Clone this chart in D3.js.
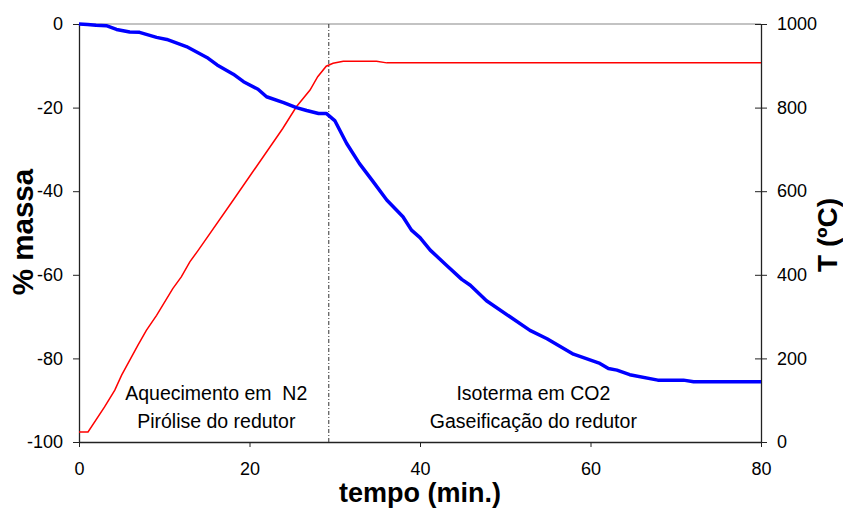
<!DOCTYPE html>
<html>
<head>
<meta charset="utf-8">
<script src="https://cdn.jsdelivr.net/npm/d3@7"></script>
<style>
  body { margin: 0; background: #fff; }
  svg text { font-family: Arial, "Liberation Sans", sans-serif; fill: #000; }
</style>
</head>
<body>
<div id="chart"></div>
<script>
// data
var massTime = [0, 1, 2, 3.2, 4.4, 5.95, 7.1, 9.1, 10.3, 12.6, 15.0, 16.2, 18.1, 19.3, 21.0, 22.0, 24.0, 25.5, 26.7, 28.1, 29.0,
                30.0, 31.4, 32.9, 34.5, 36.1, 38.0, 39.0, 40.0, 41.2, 43.1, 44.9, 45.9, 47.8, 50.6, 52.9, 54.9, 58.0, 61.1, 62.1,
                63.1, 64.6, 67.9, 70.9, 72.1, 80];
var massValues = [0, -0.1, -0.3, -0.4, -1.3, -1.9, -2.0, -3.2, -3.7, -5.4, -8.0, -9.8, -12.0, -13.8, -15.6, -17.4, -18.8, -20.0, -20.7, -21.4, -21.4,
                  -23.1, -28.6, -33.4, -37.7, -42.1, -46.1, -49.3, -51.1, -54.1, -57.7, -61.1, -62.5, -66.2, -70.1, -73.3, -75.3, -79.0, -81.2, -82.4,
                  -82.8, -83.9, -85.2, -85.2, -85.6, -85.6];
var tempTime = [0, 1.06, 3.0, 4.2, 5.0, 6.9, 7.9, 9.1, 11.0, 12.0, 13.0, 14.0, 18.1, 23.9, 25.5, 27.1, 28.0, 29.0, 29.8, 31.0, 34.9, 36.1, 80];
var tempValues = [24, 24, 84, 124, 160, 231, 267, 303, 367, 395, 431, 459, 579, 750, 802, 842, 874, 899, 906, 911, 911, 907, 907];

var xTicks = [0, 20, 40, 60, 80];
var massTicks = [0, -20, -40, -60, -80, -100];
var tempTicks = [0, 200, 400, 600, 800, 1000];
var changeTime = 29.3;

var margin = {top: 24, left: 79},
    width = 682,
    height = 418;

var svg = d3.select("#chart")
    .append("svg")
    .attr("width", 843)
    .attr("height", 509);

var g = svg.append("g")
    .attr("transform", "translate(" + margin.left + "," + margin.top + ")");

var x = d3.scaleLinear().domain([0, 80]).range([0, width]);
var yMass = d3.scaleLinear().domain([-100, 0]).range([height, 0]);
var yTemp = d3.scaleLinear().domain([0, 1000]).range([height, 0]);

// plain labels, hyphen minus and no thousands comma
var plain = function(d) { return String(d); };

// top border
g.append("line")
    .attr("x1", 0).attr("x2", width)
    .attr("y1", 0).attr("y2", 0)
    .attr("stroke", "#888").attr("stroke-width", 1.2);

// axes
var left = g.append("g")
    .call(d3.axisLeft(yMass).tickValues(massTicks).tickFormat(plain).tickSizeInner(6).tickSizeOuter(0).tickPadding(10));
var bottom = g.append("g")
    .attr("transform", "translate(0," + height + ")")
    .call(d3.axisBottom(x).tickValues(xTicks).tickFormat(plain).tickSizeInner(5).tickSizeOuter(0).tickPadding(15));
var right = g.append("g")
    .attr("transform", "translate(" + width + ",0)")
    .call(d3.axisRight(yTemp).tickValues(tempTicks).tickFormat(plain).tickSizeInner(6).tickSizeOuter(0).tickPadding(10));
right.selectAll(".tick line").attr("x1", -6);

[left, bottom, right].forEach(function(a) {
    a.selectAll("text").style("font-size", "18px").attr("fill", "#000");
    a.selectAll("line").attr("stroke", "#222");
    a.select(".domain").attr("stroke", "#222").attr("stroke-width", 1.3);
});

// vertical change line
g.append("line")
    .attr("x1", x(changeTime)).attr("x2", x(changeTime))
    .attr("y1", 0).attr("y2", height)
    .attr("stroke", "#333")
    .attr("stroke-width", 1)
    .attr("stroke-dasharray", "4,2,1,2");

// temperature line
var tempLine = d3.line()
    .x(function(d, i) { return x(tempTime[i]); })
    .y(function(d) { return yTemp(d); });
g.append("path")
    .datum(tempValues)
    .attr("d", tempLine)
    .attr("fill", "none")
    .attr("stroke", "#ff0000")
    .attr("stroke-width", 1.5);

// mass line
var massLine = d3.line()
    .x(function(d, i) { return x(massTime[i]); })
    .y(function(d) { return yMass(d); });
g.append("path")
    .datum(massValues)
    .attr("d", massLine)
    .attr("fill", "none")
    .attr("stroke", "#0000ff")
    .attr("stroke-width", 3.5)
    .attr("stroke-linejoin", "round");

// annotations
var notes = [
    {t: 16.1, y: 400, text: "Aquecimento em\u00a0\u00a0N2"},
    {t: 16.1, y: 428, text: "Pirólise do redutor"},
    {t: 53.3, y: 400, text: "Isoterma em CO2"},
    {t: 53.3, y: 428, text: "Gaseificação do redutor"}
];
svg.selectAll(".note")
    .data(notes)
    .enter()
    .append("text")
    .attr("class", "note")
    .attr("x", function(d) { return margin.left + x(d.t); })
    .attr("y", function(d) { return d.y; })
    .attr("text-anchor", "middle")
    .style("font-size", "19.5px")
    .text(function(d) { return d.text; });

// axis titles
svg.append("text")
    .attr("x", 420).attr("y", 502)
    .attr("text-anchor", "middle")
    .style("font-size", "27px").style("font-weight", "bold")
    .text("tempo (min.)");

svg.append("text")
    .attr("transform", "translate(33,232) rotate(-90)")
    .attr("text-anchor", "middle")
    .style("font-size", "29.5px").style("font-weight", "bold")
    .text("% massa");

svg.append("text")
    .attr("transform", "translate(837,235) rotate(-90)")
    .attr("text-anchor", "middle")
    .style("font-size", "28px").style("font-weight", "bold")
    .text("T (ºC)");
</script>
</body>
</html>
